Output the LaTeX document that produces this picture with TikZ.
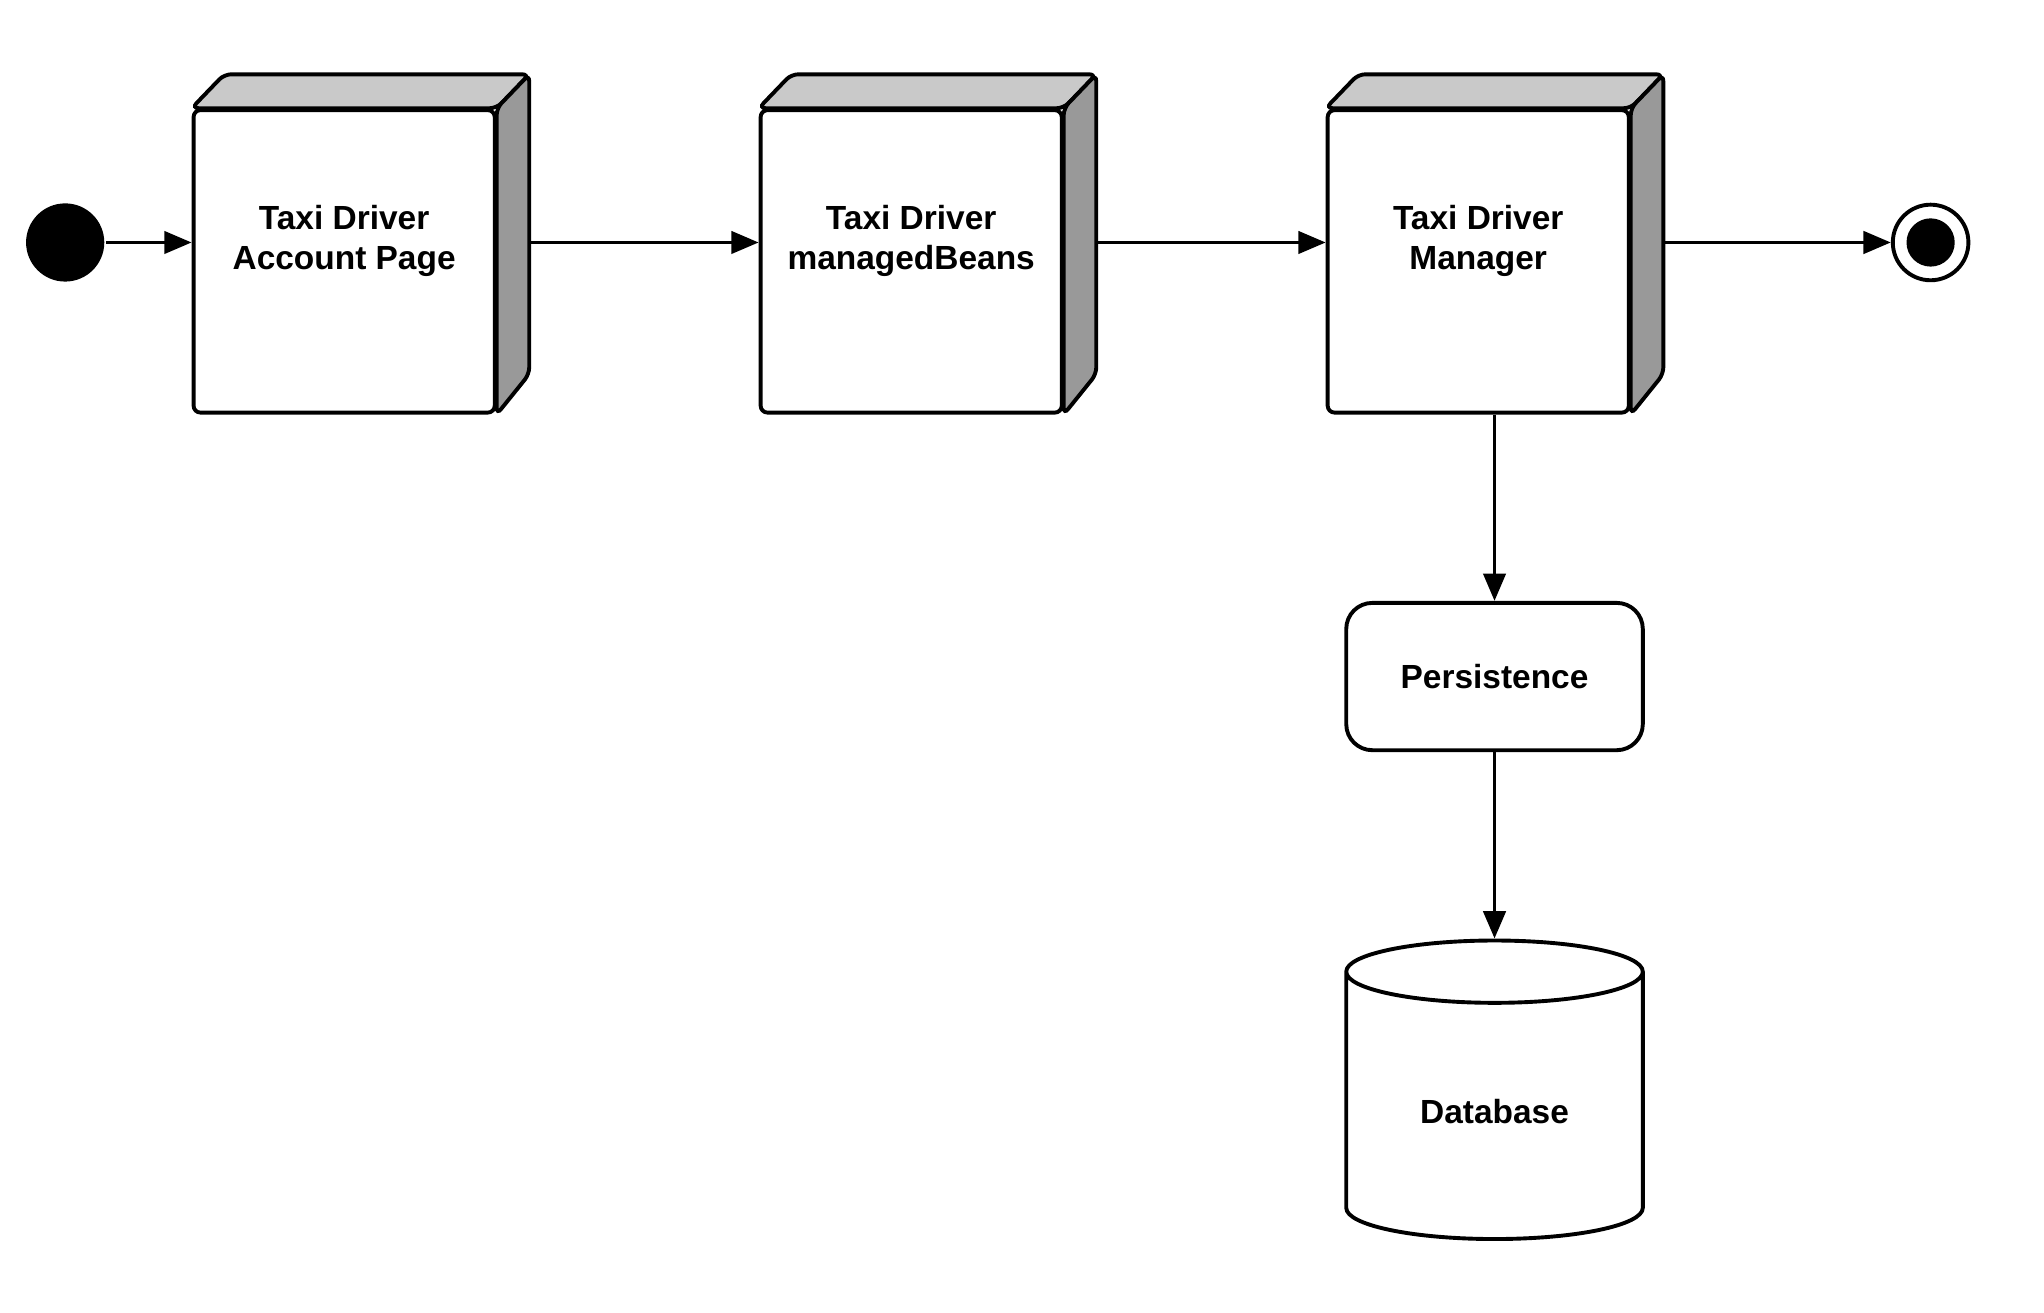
\documentclass[tikz,border=0pt]{standalone}
\usepackage{fontspec}
\setmainfont{Liberation Sans}
\usepackage{xcolor}
\usetikzlibrary{shapes.geometric,arrows.meta,positioning,calc}
\definecolor{topgray}{HTML}{C9C9C9}
\definecolor{sidegray}{HTML}{999999}

\begin{document}
\begin{tikzpicture}[node distance=4.02cm, line width=1.7pt,
    every node/.style={font=\fontsize{14.6}{17.6}\selectfont\bfseries},
    flow/.style={-{Triangle[length=0.42cm,width=0.34cm]}},
    comp/.style={draw, rectangle, rounded corners=3pt, fill=white, minimum width=4.62cm, minimum height=4.64cm},
    topface/.style={draw, rounded corners=3pt, fill=topgray},
    sideface/.style={draw, rounded corners=3pt, fill=sidegray},
    proc/.style={draw, rectangle, rounded corners=0.4cm, minimum width=4.55cm, minimum height=2.26cm},
    dbase/.style={draw, cylinder, shape border rotate=90, aspect=0.38, minimum width=4.55cm, minimum height=4.58cm},
    startdot/.style={circle, fill=black, minimum size=1.2cm, inner sep=0pt},
    enddot/.style={circle, draw, minimum size=1.16cm, inner sep=0pt,
        path picture={\fill (path picture bounding box.center) circle (0.37cm);}}]
    \useasboundingbox (0,0) rectangle (31.36,-20.14);

    % Initial state
    \node [startdot] (start) at (1,-3.72) {};

    % Components (front faces)
    \node [comp] (b1) at (5.28,-4.01) {};
    \node [comp, right=of b1] (b2) {};
    \node [comp, right=of b2] (b3) {};

    % Top and side faces, labels
    \foreach \b/\txt in {b1/{Taxi Driver\\Account Page}, b2/{Taxi Driver\\managedBeans}, b3/{Taxi Driver\\Manager}} {
        \draw [topface] (\b.north west) -- ++(0.5,0.52) -- ($(\b.north east)+(0.5,0.52)$) -- (\b.north east) -- cycle;
        \draw [sideface] (\b.north east) -- ++(0.5,0.52) -- ($(\b.south east)+(0.5,0.62)$) -- (\b.south east) -- cycle;
        \node [align=center] (\b-t) at ([yshift=0.31cm]\b.center) {\txt};
        \coordinate (\b-r) at ([xshift=0.5cm]\b.east);
    }

    % Final state
    \node [enddot] (end) at (29.62,-3.72) {};

    % Persistence and database
    \node [proc, below=2.86cm of b3.south, xshift=0.25cm] (pers) {Persistence};
    \node [dbase, below=2.86cm of pers] (db) {Database};

    % Flow
    \draw [flow] (start) -- (start -| b1.west);
    \foreach \a/\b in {b1/b2, b2/b3}
        \draw [flow] (\a-r |- start) -- (start -| \b.west);
    \draw [flow] (b3-r |- start) -- (end);
    \draw [flow] (b3.south -| pers) -- (pers);
    \draw [flow] (pers) -- (db);
\end{tikzpicture}
\end{document}
